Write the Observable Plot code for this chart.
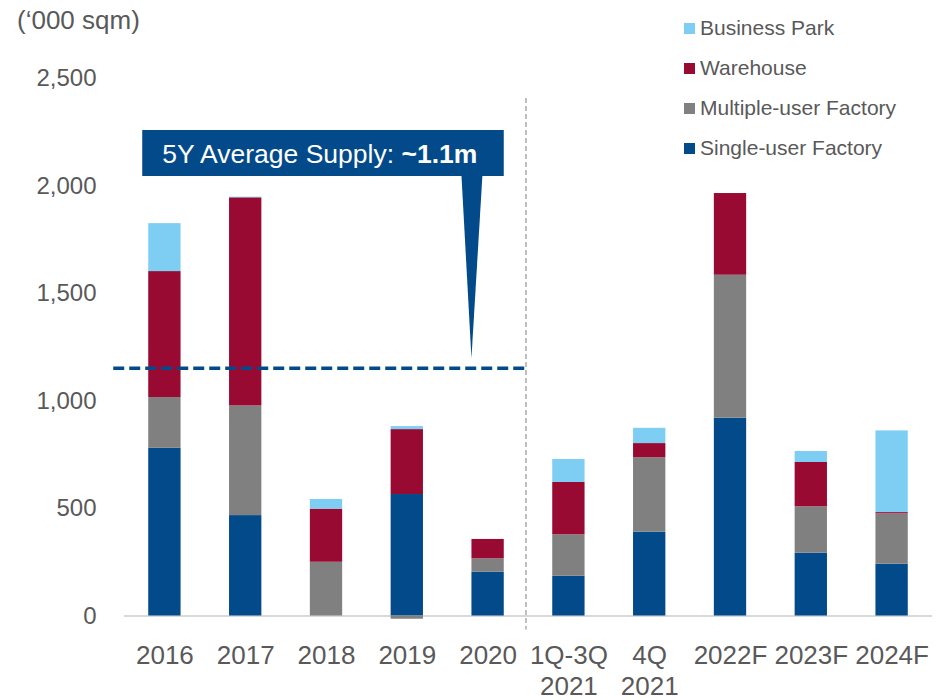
<!DOCTYPE html>
<html>
<head>
<meta charset="utf-8">
<script src="https://cdn.jsdelivr.net/npm/d3@7"></script>
<script src="https://cdn.jsdelivr.net/npm/@observablehq/plot@0.6"></script>
<style>
  html, body { margin: 0; padding: 0; background: #fff; }
  #wrap { position: relative; width: 945px; height: 700px; font-family: "Liberation Sans", Arial, sans-serif; color: #595959; }
  #unit { position: absolute; left: 17px; top: 5px; font-size: 26px; line-height: 30px; }
  #legend { position: absolute; left: 684px; top: 18px; font-size: 21px; }
  .li { display: flex; align-items: center; height: 20px; margin-bottom: 20px; }
  .sw { width: 11px; height: 11px; margin-right: 5px; }
  svg { position: absolute; left: 0; top: 0; }
</style>
</head>
<body>
<div id="wrap">
  <div id="chart"></div>
  <div id="unit">(‘000 sqm)</div>
  <div id="legend"></div>
</div>
<script>
const categories = ["2016", "2017", "2018", "2019", "2020", "1Q-3Q\n2021", "4Q\n2021", "2022F", "2023F", "2024F"];
const seriesNames = ["Single-user Factory", "Multiple-user Factory", "Warehouse", "Business Park"];
const seriesColors = ["#034A8A", "#808080", "#990A32", "#7ECEF4"];
const singleUser = [780, 467, 0, 565, 204, 185, 390, 920, 292, 241];
const multipleUser = [236, 510, 250, -15, 62, 193, 346, 665, 216, 234];
const warehouse = [586, 968, 247, 302, 90, 243, 66, 380, 206, 6];
const businessPark = [223, 3, 45, 14, 0, 107, 71, 0, 51, 380];
const yTicks = [0, 500, 1000, 1500, 2000, 2500];
const avgSupply = 1150;
const avgLabel = "5Y Average Supply: ";
const avgLabelBold = "~1.1m";
const lastActual = "2020";
const firstForecastGroup = "1Q-3Q\n2021";

const seriesValues = [singleUser, multipleUser, warehouse, businessPark];
const rows = [];
seriesNames.forEach((s, si) => categories.forEach((c, ci) => rows.push({cat: c, type: s, value: seriesValues[si][ci]})));

const paddingInner = 0.6;

function annotation(index, scales, values, dims) {
  const x = scales.x, y = scales.y;
  const step = x(categories[1]) - x(categories[0]);
  const bw = step * (1 - paddingInner);
  const g = d3.create("svg:g");
  const sepX = (x(lastActual) + bw + x(firstForecastGroup)) / 2 - 2;
  // vertical separator
  g.append("line").attr("x1", sepX).attr("x2", sepX)
    .attr("y1", y(2500) + 20).attr("y2", y(0) + 14)
    .attr("stroke", "#BFBFBF").attr("stroke-width", 2).attr("stroke-dasharray", "5,3");
  // average line
  const ay = y(avgSupply);
  g.append("line").attr("x1", x(categories[0]) - 35).attr("x2", sepX)
    .attr("y1", ay).attr("y2", ay)
    .attr("stroke", "#034A8A").attr("stroke-width", 3.5).attr("stroke-dasharray", "11,5");
  // callout box
  const bx0 = x(categories[0]) - 6, bx1 = x(lastActual) + bw;
  const by0 = y(2500) + 52, by1 = by0 + 46;
  g.append("rect").attr("x", bx0).attr("y", by0).attr("width", bx1 - bx0).attr("height", by1 - by0).attr("fill", "#034A8A");
  const px = x(lastActual);
  g.append("path").attr("d", `M${px - 10},${by1 - 1}L${px + 11},${by1 - 1}L${px},${ay - 10}Z`).attr("fill", "#034A8A");
  const t = g.append("text").attr("x", bx0 + 20).attr("y", by0 + 33).attr("text-anchor", "start")
    .attr("fill", "white").attr("font-size", 26.5).attr("font-family", "'Liberation Sans', Arial, sans-serif");
  t.append("tspan").text(avgLabel);
  t.append("tspan").attr("font-weight", "bold").text(avgLabelBold);
  return g.node();
}

const chart = Plot.plot({
  width: 945,
  height: 700,
  marginTop: 78,
  marginBottom: 84.5,
  marginLeft: 124,
  marginRight: 13,
  style: {fontFamily: "'Liberation Sans', Arial, sans-serif", background: "white", color: "#595959"},
  x: {domain: categories, paddingInner: paddingInner, paddingOuter: 0.3, round: false, label: null},
  y: {domain: [0, 2500], label: null},
  color: {domain: seriesNames, range: seriesColors},
  marks: [
    Plot.ruleY([0], {stroke: "#D9D9D9", strokeWidth: 2}),
    Plot.barY(rows, {x: "cat", y: "value", fill: "type", order: seriesNames, inset: 0}),
    Plot.axisY(yTicks, {tickSize: 0, tickPadding: 28, fontSize: 24, fill: "#595959", tickFormat: d3.format(","), label: null}),
    Plot.axisX({tickSize: 0, tickPadding: 25, fontSize: 26, fill: "#595959", lineHeight: 1.22, label: null}),
    annotation
  ]
});
document.getElementById("chart").appendChild(chart);

const legend = document.getElementById("legend");
[3, 2, 1, 0].forEach(i => {
  const d = document.createElement("div");
  d.className = "li";
  const s = document.createElement("div");
  s.className = "sw";
  s.style.background = seriesColors[i];
  d.appendChild(s);
  d.appendChild(document.createTextNode(seriesNames[i]));
  legend.appendChild(d);
});
</script>
</body>
</html>
